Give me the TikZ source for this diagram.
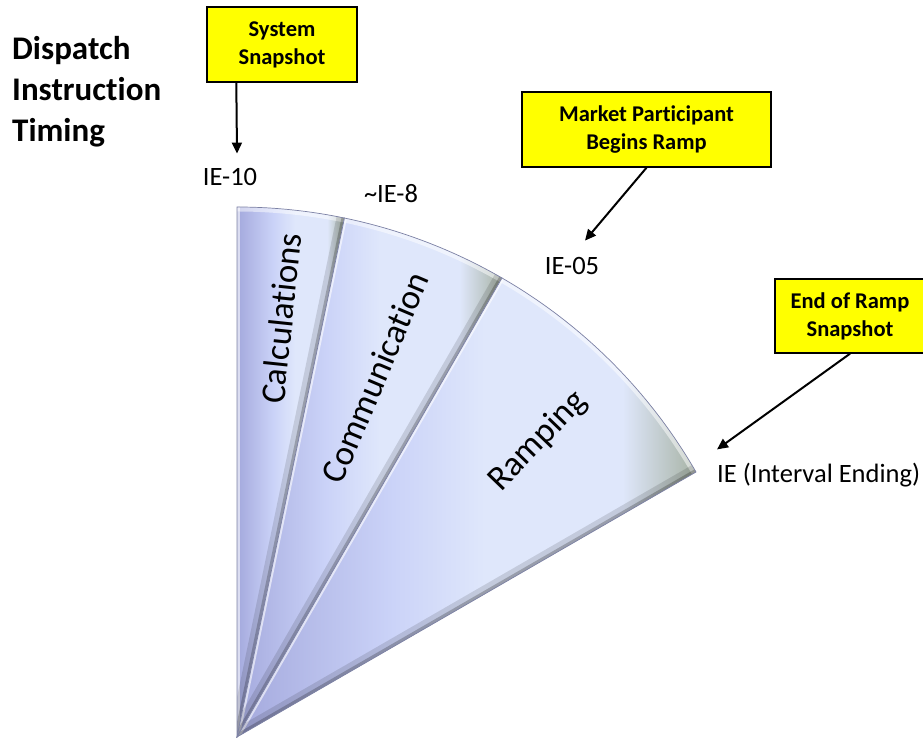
\documentclass[tikz,border=0pt]{standalone}
\usepackage{fontspec}
\setmainfont{Carlito}[RawFeature={-liga;-clig;-calt;-dlig}]
\usetikzlibrary{arrows.meta}
\definecolor{snapyellow}{HTML}{FFFF00}
\definecolor{fandark}{HTML}{A4A9DD}
\definecolor{fanmid}{HTML}{CBD3F8}
\definecolor{fanlight}{HTML}{DFE7FB}
\definecolor{fantip}{HTML}{A7B3A5}
\definecolor{edgeline}{HTML}{7C81A4}
\pgfdeclarehorizontalshading{fanbody}{100bp}{color(0bp)=(fandark); color(25bp)=(fandark);
	color(42bp)=(fanmid); color(52bp)=(fanlight); color(67bp)=(fanlight);
	color(75bp)=(fantip); color(100bp)=(fantip)}
\tikzset{
	note box/.style={draw=black,line width=1.4pt,fill=snapyellow,align=center,
		font=\fontsize{22.5}{28}\selectfont\bfseries},
	time label/.style={inner sep=0pt,font=\fontsize{26.5}{30}\selectfont},
	slice label/.style={inner sep=0pt,font=\fontsize{35}{40}\selectfont},
	fan slice/.style={shading=fanbody},
	pointer/.style={-{Triangle[length=11pt,width=10pt]},line width=2pt}
}
\newcommand{\slicepath}[2]{(apex) -- ([shift={(#1:530)}]apex) arc[start angle=#1,end angle=#2,radius=530] -- cycle}
\newcommand{\fanslice}[2]{%
	\shade[fan slice] \slicepath{#1}{#2};
	\begin{scope}
		\clip \slicepath{#1}{#2};
		\draw[white,opacity=.5,line width=9pt] ([shift={(#1:530)}]apex) arc[start angle=#1,end angle=#2,radius=530];
		\draw[white,opacity=.6,line width=5pt] (apex) -- ([shift={(#1:530)}]apex);
		\draw[black,opacity=.12,line width=16pt] (apex) -- ([shift={(#2:530)}]apex);
		\draw[black,opacity=.22,line width=6pt] (apex) -- ([shift={(#2:530)}]apex);
	\end{scope}
	\draw[edgeline,line width=.7pt] \slicepath{#1}{#2};
}

\begin{document}
\begin{tikzpicture}[x=1pt,y=1pt]
	\useasboundingbox (0,0) rectangle (923,738);
	\coordinate (apex) at (237,1);
	% the fan
	\fanslice{90}{78.3}
	\fanslice{78.3}{60}
	\fanslice{60}{30}
	\node [slice label,rotate=84] (calc) at ([shift={(84:421)}]apex) {Calculations};
	\node [slice label,rotate=67] (comm) at ([shift={(69:385)}]apex) {Communication};
	\node [slice label,rotate=46] (ramp) at ([shift={(44.5:422)}]apex) {Ramping};
	% title
	\node [anchor=north west,align=left,inner sep=0pt,font=\fontsize{33}{41}\selectfont\bfseries] (title) at (12,702) {Dispatch\\Instruction\\Timing};
	% time marks
	\node [time label,anchor=base] (ie10) at (230,552) {IE-10};
	\node [time label,anchor=base] (ie8) at (391,535) {\textasciitilde IE-8};
	\node [time label,anchor=base] (ie05) at (572,463) {IE-05};
	\node [time label,anchor=base west] (ieend) at (717,255) {IE (Interval Ending)};
	% snapshots
	\node [note box,minimum width=150pt,minimum height=75pt] (sys) at (282,693.5) {System\\Snapshot};
	\node [note box,minimum width=249pt,minimum height=75pt] (mp) at (646.5,608.5) {Market Participant\\Begins Ramp};
	\node [note box,minimum width=150pt,minimum height=74pt] (eor) at (850,422) {End of Ramp\\Snapshot};
	\draw [pointer] ([xshift=30pt]sys.south west) -- ([xshift=7pt,yshift=15pt]ie10.north);
	\draw [pointer] (mp.south) -- ([xshift=13pt,yshift=17pt]ie05.north);
	\draw [pointer] (eor.south) -- ([yshift=14pt]ieend.north west);
\end{tikzpicture}
\end{document}
